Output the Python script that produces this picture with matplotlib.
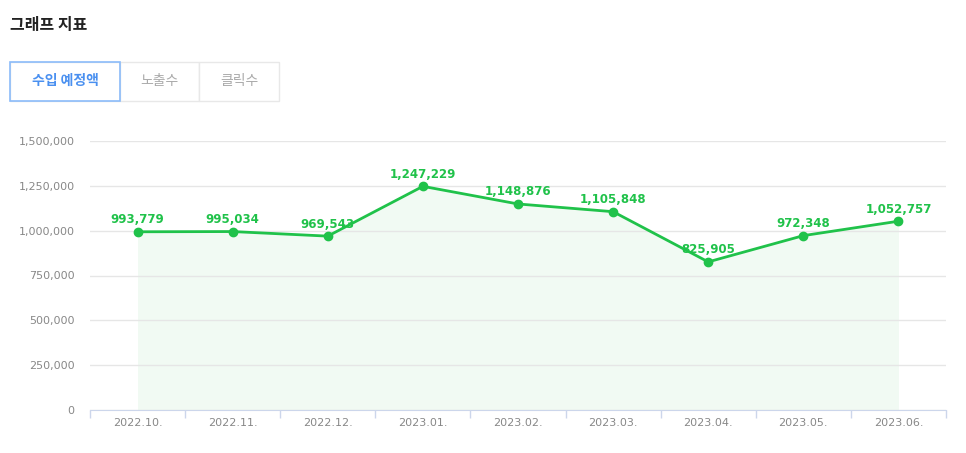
import matplotlib
matplotlib.use("Agg")
import matplotlib.pyplot as plt
from matplotlib.patches import Rectangle
from matplotlib.ticker import FuncFormatter, MultipleLocator

plt.rcParams['font.family'] = ['Noto Sans CJK KR', 'DejaVu Sans']

# ------------------------------------------------------------
# Data
# ------------------------------------------------------------
months = ['2022.10.', '2022.11.', '2022.12.', '2023.01.', '2023.02.',
          '2023.03.', '2023.04.', '2023.05.', '2023.06.']
revenue = [993779, 995034, 969543, 1247229, 1148876,
           1105848, 825905, 972348, 1052757]
tabs = ['수입 예정액', '노출수', '클릭수']

GREEN = '#20c24a'
FILL = '#f1faf3'

fig = plt.figure(figsize=(9.66, 4.53), dpi=100)
W, H = 966, 453

# ------------------------------------------------------------
# Header and tabs
# ------------------------------------------------------------
fig.text(10 / W, 1 - 25 / H, '그래프 지표', fontsize=11.5, fontweight='bold',
         color='#222222', va='center', ha='left')

tab_x = [10, 120, 199, 279]
for i, name in enumerate(tabs):
    x0, x1 = tab_x[i], tab_x[i + 1]
    active = i == 0
    rect = Rectangle((x0 / W, 1 - 101 / H), (x1 - x0) / W, 39 / H,
                     transform=fig.transFigure, facecolor='white',
                     edgecolor='#e8e8e8', linewidth=1, zorder=1)
    fig.add_artist(rect)
    fig.text((x0 + x1) / 2 / W, 1 - 81 / H, name, fontsize=10,
             color='#4a90f0' if active else '#aaaaaa',
             fontweight='bold' if active else 'normal',
             ha='center', va='center')
# active tab border drawn on top
fig.add_artist(Rectangle((10 / W, 1 - 101 / H), 110 / W, 39 / H,
                         transform=fig.transFigure, facecolor='none',
                         edgecolor='#8cbcfa', linewidth=1.2, zorder=2))

# ------------------------------------------------------------
# Chart
# ------------------------------------------------------------
ax = fig.add_axes([90 / W, 1 - 410 / H, 856 / W, 269 / H])
xs = [i + 0.5 for i in range(len(months))]

ax.fill_between(xs, revenue, 0, color=FILL, zorder=1, linewidth=0)
ax.plot(xs, revenue, color=GREEN, linewidth=2, marker='o', markersize=6,
        zorder=3, clip_on=False)
for x, v in zip(xs, revenue):
    ax.annotate(f'{v:,}', (x, v), xytext=(0, 4), textcoords='offset points',
                ha='center', va='bottom', fontsize=8.5, fontweight='semibold',
                color=GREEN, family='DejaVu Sans', zorder=4)

ax.set_xlim(0, len(months))
ax.set_ylim(0, 1500000)
ax.yaxis.set_major_locator(MultipleLocator(250000))
ax.yaxis.set_major_formatter(FuncFormatter(lambda v, p: f'{int(v):,}'))
ax.grid(axis='y', color='#e6e6e6', linewidth=1, zorder=0)

ax.set_xticks(range(len(months) + 1))
ax.set_xticklabels([])
ax.set_xticks(xs, minor=True)
ax.set_xticklabels(months, minor=True)
ax.tick_params(axis='x', which='major', length=6, color='#ccd6eb', width=1)
ax.tick_params(axis='x', which='minor', length=0, pad=6,
               labelsize=8, labelcolor='#888888')
ax.tick_params(axis='y', length=0, pad=11, labelsize=8, labelcolor='#888888')
for lab in ax.get_xticklabels(minor=True) + ax.get_yticklabels():
    lab.set_family('DejaVu Sans')

for s in ['top', 'right', 'left']:
    ax.spines[s].set_visible(False)
ax.spines['bottom'].set_color('#ccd6eb')

fig.savefig('out.png', dpi=100)
